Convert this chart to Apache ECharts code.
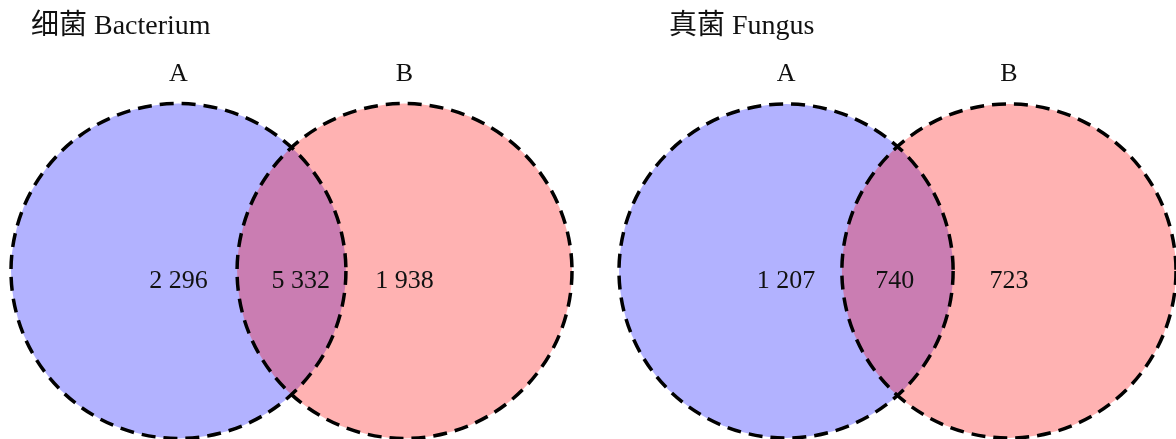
<!DOCTYPE html>
<html>
<head>
<meta charset="utf-8">
<script src="https://cdn.jsdelivr.net/npm/echarts@6/dist/echarts.min.js"></script>
<style>
html,body{margin:0;padding:0;background:#fff;}
#main{width:1176px;height:439px;}
</style>
</head>
<body>
<div id="main"></div>
<script>
/*数据*/
var setNames = ['A', 'B'];
var panelTitles = ['细菌 Bacterium', '真菌 Fungus'];
var onlyA = [2296, 1207];
var shared = [5332, 740];
var onlyB = [1938, 723];
var centerGap = [1.35, 1.334];   // 两圆心距离(以半径为单位)
var sharedPos = [0.73, 0.65];    // 交集标签位置

var setColors = ['rgba(0,0,255,0.3)', 'rgba(255,0,0,0.3)'];
var fontFam = '"Liberation Serif","Noto Sans CJK SC",serif';

function fmt(n) {
	return String(n).replace(/\B(?=(\d{3})+(?!\d))/g, ' ');
}

var gridPos = [
	{ left: 11, top: 103, width: 561, height: 336 },
	{ left: 619, top: 103, width: 558, height: 336 }
];

var grids = [], xAxes = [], yAxes = [], series = [], titles = [];
var titleLeft = [26, 664];

for (var i = 0; i < 2; i++) {
	grids.push(gridPos[i]);
	xAxes.push({ gridIndex: i, type: 'value', min: -1, max: 1 + centerGap[i], show: false });
	yAxes.push({ gridIndex: i, type: 'value', min: -1, max: 1, show: false });
	titles.push({
		text: panelTitles[i],
		left: titleLeft[i],
		top: 8,
		textStyle: { fontFamily: fontFam, fontSize: 28, fontWeight: 'normal', color: '#111' }
	});

	var circles = [[0, 0, 1, 0], [centerGap[i], 0, 1, 1]];
	/*填充*/
	series.push({
		type: 'custom',
		xAxisIndex: i, yAxisIndex: i,
		clip: false, z: 1,
		data: circles,
		renderItem: function (params, api) {
			var c = api.coord([api.value(0), api.value(1)]);
			var r = api.size([api.value(2), 0])[0];
			return {
				type: 'circle',
				shape: { cx: c[0], cy: c[1], r: r },
				style: { fill: setColors[api.value(3)], stroke: null }
			};
		}
	});
	/*虚线边框*/
	series.push({
		type: 'custom',
		xAxisIndex: i, yAxisIndex: i,
		clip: false, z: 2,
		data: circles,
		renderItem: function (params, api) {
			var c = api.coord([api.value(0), api.value(1)]);
			var r = api.size([api.value(2), 0])[0];
			return {
				type: 'circle',
				shape: { cx: c[0], cy: c[1], r: r },
				style: { fill: null, stroke: '#000', lineWidth: 3.5, lineDash: [14, 8] }
			};
		}
	});
	/*文字*/
	var labels = [
		[0, 1.17, setNames[0]],
		[centerGap[i], 1.17, setNames[1]],
		[0, -0.06, fmt(onlyA[i])],
		[sharedPos[i], -0.06, fmt(shared[i])],
		[centerGap[i], -0.06, fmt(onlyB[i])]
	];
	series.push({
		type: 'custom',
		xAxisIndex: i, yAxisIndex: i,
		clip: false, z: 3,
		data: labels,
		renderItem: function (params, api) {
			var c = api.coord([api.value(0), api.value(1)]);
			return {
				type: 'text',
				x: c[0], y: c[1],
				style: {
					text: api.value(2),
					fill: '#111',
					font: '26px ' + fontFam,
					align: 'center',
					verticalAlign: 'middle'
				}
			};
		}
	});
}

var chart = echarts.init(document.getElementById('main'));
chart.setOption({
	animation: false,
	title: titles,
	grid: grids,
	xAxis: xAxes,
	yAxis: yAxes,
	series: series
});
</script>
</body>
</html>
